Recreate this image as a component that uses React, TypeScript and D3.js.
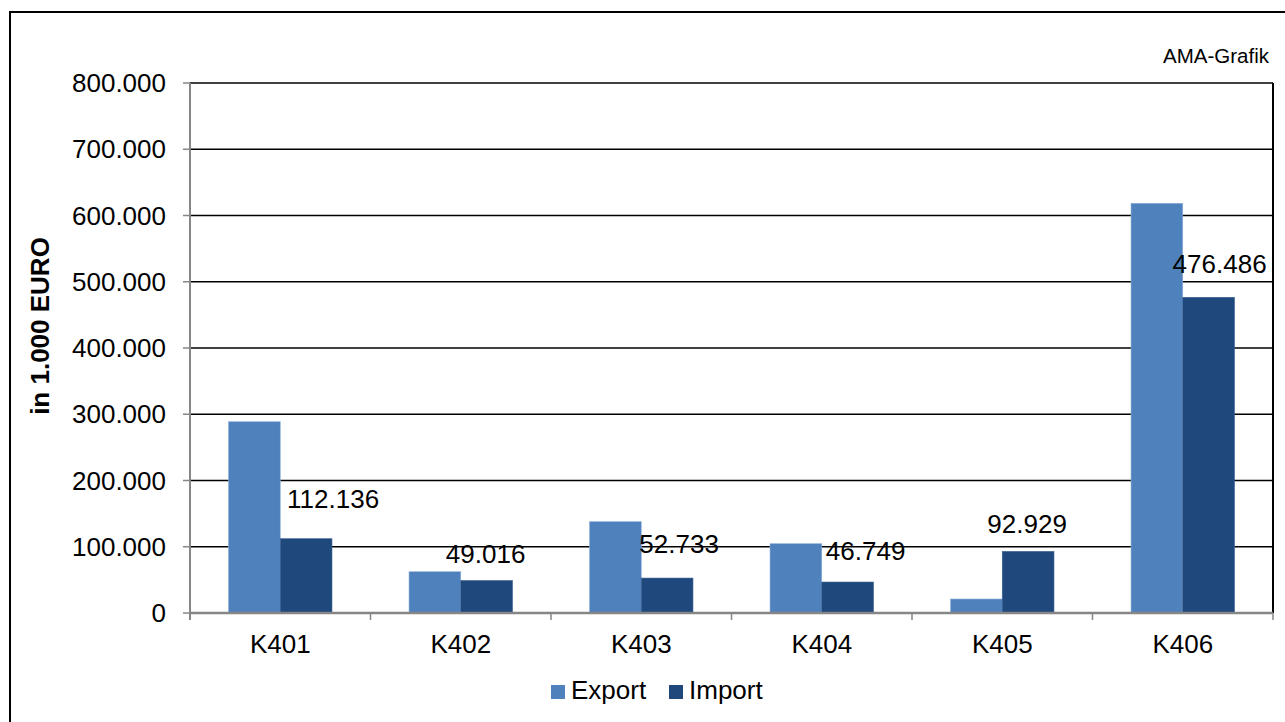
import * as d3 from "d3";
import React from "react";

const categories = ["K401", "K402", "K403", "K404", "K405", "K406"];
const seriesNames = ["Export", "Import"];
const exportValues = [288700, 62300, 137800, 104600, 21100, 618400];
const importValues = [112136, 49016, 52733, 46749, 92929, 476486];
const yTicks = [0, 100000, 200000, 300000, 400000, 500000, 600000, 700000, 800000];

// hand-placed label offsets from the import bar (dx, baseline above bar top)
const labelNudge = [
	[27, 31],
	[-1, 18],
	[12, 25],
	[18, 22],
	[-1, 18],
	[11, 24],
];

const colors = ["#4F81BD", "#1F497D"];
const FONT = "Liberation Sans, Arial, sans-serif";

const de = d3.formatLocale({
	decimal: ",",
	thousands: ".",
	grouping: [3],
	currency: ["", " €"],
});
const fmt = de.format(",d");

export default function App() {
	const width = 1285;
	const height = 722;
	const plot = { left: 190, right: 1273, top: 83, bottom: 613 };

	const x = d3
		.scaleBand<string>()
		.domain(categories)
		.range([plot.left, plot.right])
		.padding(0);
	const xs = d3
		.scaleBand<string>()
		.domain(seriesNames)
		.range([0, x.bandwidth()])
		.paddingInner(0)
		.paddingOuter(0.745);
	const y = d3.scaleLinear().domain([0, 800000]).range([plot.bottom, plot.top]);

	const series = [exportValues, importValues];

	return (
		<svg
			width={width}
			height={height}
			style={{ position: "absolute", left: 0, top: 0, background: "#fff" }}
			fontFamily={FONT}
		>
			<rect x={10} y={12} width={1400} height={900} fill="#fff" stroke="#000" strokeWidth={2} />

			<text x={1269} y={63} fontSize={20.5} textAnchor="end" fill="#000">
				AMA-Grafik
			</text>

			{/* gridlines */}
			{yTicks.map((t) => (
				<line
					key={t}
					x1={plot.left}
					x2={plot.right}
					y1={y(t)}
					y2={y(t)}
					stroke="#000"
					strokeWidth={1.5}
				/>
			))}
			<line
				x1={plot.right}
				x2={plot.right}
				y1={plot.top}
				y2={plot.bottom}
				stroke="#000"
				strokeWidth={2}
			/>

			{/* bars */}
			{series.map((vals, si) =>
				vals.map((v, i) => (
					<rect
						key={`${si}-${i}`}
						x={(x(categories[i]) ?? 0) + (xs(seriesNames[si]) ?? 0)}
						y={y(v)}
						width={xs.bandwidth()}
						height={y(0) - y(v)}
						fill={colors[si]}
						stroke={si === 0 ? "#8DB0DA" : "#3A5F8F"}
						strokeWidth={0.6}
					/>
				)),
			)}

			{/* axes */}
			<line x1={plot.left} x2={plot.left} y1={plot.top} y2={plot.bottom + 7} stroke="#868686" strokeWidth={2} />
			<line x1={plot.left} x2={plot.right} y1={plot.bottom} y2={plot.bottom} stroke="#868686" strokeWidth={2.5} />
			{yTicks.map((t) => (
				<g key={t}>
					<line x1={plot.left - 7} x2={plot.left} y1={y(t)} y2={y(t)} stroke="#868686" strokeWidth={1.5} />
					<text x={166} y={y(t)} dy="0.35em" fontSize={26} textAnchor="end" fill="#000">
						{fmt(t)}
					</text>
				</g>
			))}
			{categories.map((c) => (
				<line
					key={c}
					x1={x(c)! + x.bandwidth()}
					x2={x(c)! + x.bandwidth()}
					y1={plot.bottom}
					y2={plot.bottom + 7}
					stroke="#868686"
					strokeWidth={1.5}
				/>
			))}
			{categories.map((c) => (
				<text
					key={c}
					x={x(c)! + x.bandwidth() / 2}
					y={653}
					fontSize={26}
					textAnchor="middle"
					fill="#000"
				>
					{c}
				</text>
			))}

			{/* import value labels */}
			{importValues.map((v, i) => (
				<text
					key={i}
					x={(x(categories[i]) ?? 0) + (xs("Import") ?? 0) + xs.bandwidth() / 2 + labelNudge[i][0]}
					y={y(v) - labelNudge[i][1]}
					fontSize={26}
					textAnchor="middle"
					fill="#000"
				>
					{fmt(v)}
				</text>
			))}

			{/* y title */}
			<text
				transform="translate(49,326) rotate(-90)"
				fontSize={26}
				fontWeight="bold"
				textAnchor="middle"
				fill="#000"
			>
				in 1.000 EURO
			</text>

			{/* legend */}
			{seriesNames.map((s, i) => {
				const lx = i === 0 ? 551 : 669;
				return (
					<g key={s}>
						<rect x={lx} y={685} width={14} height={14} fill={colors[i]} />
						<text x={lx + 20} y={699} fontSize={26} fill="#000">
							{s}
						</text>
					</g>
				);
			})}
		</svg>
	);
}
